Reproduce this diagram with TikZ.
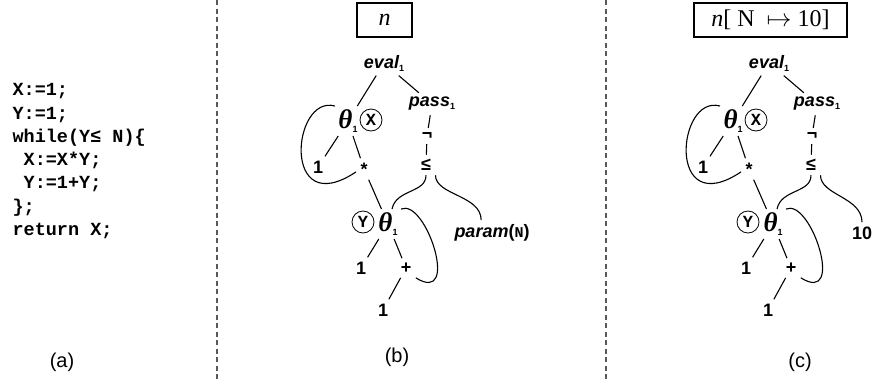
\documentclass[tikz,border=0pt]{standalone}
\usepackage{fontspec}
\setmainfont{Liberation Serif}
\setsansfont{Liberation Sans}
\setmonofont{Liberation Mono}
\newcommand{\lowsub}[2][-3pt]{\raisebox{#1}{\normalfont\sffamily\bfseries\fontsize{9}{9}\selectfont #2}}
\newcommand{\thone}{θ\lowsub[-4pt]{1}}

\begin{document}
\begin{tikzpicture}[x=1pt, y=-1pt, line width=1.1pt]
\tikzset{lbl/.style={inner sep=4pt, font=\sffamily\bfseries\fontsize{18}{20}\selectfont},
  opn/.style={lbl, font=\sffamily\bfseries\itshape\fontsize{18}{20}\selectfont},
  th/.style={inner sep=3pt, font=\bfseries\itshape\fontsize{27}{27}\selectfont},
  var/.style={draw, circle, inner sep=0pt, minimum size=22pt, line width=0.8pt, font=\ttfamily\bfseries\fontsize{17}{17}\selectfont},
  env/.style={draw, minimum height=34pt, font=\fontsize{24}{24}\selectfont},
  capt/.style={font=\sffamily\fontsize{20}{20}\selectfont},
  sepline/.style={draw=black!65, line width=1.2pt, dash pattern=on 5pt off 3.5pt}}
\useasboundingbox (0,0) rectangle (874,381);
\draw[sepline] (217,0) -- (217,381);
\draw[sepline] (606,0) -- (606,381);
% (a) the program
\node[anchor=north west, align=left, inner sep=0pt, font=\ttfamily\bfseries\fontsize{18.5}{23.3}\selectfont] (prog) at (12,83)
  {X:=1;\\Y:=1;\\while(Y≤ N)\{\\~X:=X*Y;\\~Y:=1+Y;\\\};\\return X;};
\node[capt] (capA) at (62,362) {(a)};
% (b) the graph under n
\node[env, minimum width=55pt] (bEnv) at (384.5,20) {\textit{n}};
\node[opn] (bEval) at (384,63) {eval\lowsub{1}};
\node[opn] (bPass) at (432,104) {pass\lowsub{1}};
\node[th] (bThA) at (348,121) {\thone};
\node[var] (bX) at (371,120) {X};
\node[lbl] (bOneA) at (318,167) {1};
\node[lbl] (bStar) at (364,169) {*};
\node[lbl] (bNot) at (427,136) {¬};
\node[lbl] (bLeq) at (426,165) {≤};
\node[th] (bThB) at (388,224) {\thone};
\node[var] (bY) at (363,222) {Y};
\node[lbl] (bOneB) at (361,268) {1};
\node[lbl] (bPlus) at (406,268) {+};
\node[lbl] (bOneC) at (383,310) {1};
\node[opn] (bParam) at (492,233) {param\textup{(}{\ttfamily\upshape\fontsize{15}{15}\selectfont N}\textup{)}};
\node[capt] (capB) at (397,357) {(b)};
\draw (bEval) -- (bThA);
\draw (bEval) -- (bPass);
\draw (bPass) -- (bNot);
\draw (bNot) -- (bLeq);
\draw (bThA) -- (bOneA);
\draw (bThA) -- (bStar);
\draw (bStar) -- (bThB);
\draw (bThB) -- (bOneB);
\draw (bThB) -- (bPlus);
\draw (bPlus) -- (bOneC);
\draw (bThA.north west) .. controls +(-43,-12) and +(-75,50) .. (bStar.200);
\draw (bThB.north east) .. controls +(25,-11) and +(45,28) .. (bPlus.south east);
\draw (bLeq.south) .. controls +(0,18) and +(4,-20) .. (bThB.75);
\draw (bLeq.south east) .. controls +(0,20) and +(0,-25) .. (bParam.130);
% (c) the graph under n[N -> 10]
\begin{scope}[xshift=385pt]
\node[env, minimum width=153pt] (cEnv) at (385.5,20) {\textit{n}[ N \ $\mapsto$ 10]};
\node[opn] (cEval) at (384,63) {eval\lowsub{1}};
\node[opn] (cPass) at (432,104) {pass\lowsub{1}};
\node[th] (cThA) at (348,121) {\thone};
\node[var] (cX) at (371,120) {X};
\node[lbl] (cOneA) at (318,167) {1};
\node[lbl] (cStar) at (364,169) {*};
\node[lbl] (cNot) at (427,136) {¬};
\node[lbl] (cLeq) at (426,165) {≤};
\node[th] (cThB) at (388,224) {\thone};
\node[var] (cY) at (363,222) {Y};
\node[lbl] (cOneB) at (361,268) {1};
\node[lbl] (cPlus) at (406,268) {+};
\node[lbl] (cOneC) at (383,310) {1};
\node[lbl] (cTen) at (477,233) {10};
\node[capt] (capC) at (415,362) {(c)};
\draw (cEval) -- (cThA);
\draw (cEval) -- (cPass);
\draw (cPass) -- (cNot);
\draw (cNot) -- (cLeq);
\draw (cThA) -- (cOneA);
\draw (cThA) -- (cStar);
\draw (cStar) -- (cThB);
\draw (cThB) -- (cOneB);
\draw (cThB) -- (cPlus);
\draw (cPlus) -- (cOneC);
\draw (cThA.north west) .. controls +(-43,-12) and +(-75,50) .. (cStar.200);
\draw (cThB.north east) .. controls +(25,-11) and +(45,28) .. (cPlus.south east);
\draw (cLeq.south) .. controls +(0,18) and +(4,-20) .. (cThB.75);
\draw (cLeq.south east) .. controls +(0,20) and +(0,-25) .. (cTen.north);
\end{scope}
\end{tikzpicture}
\end{document}
